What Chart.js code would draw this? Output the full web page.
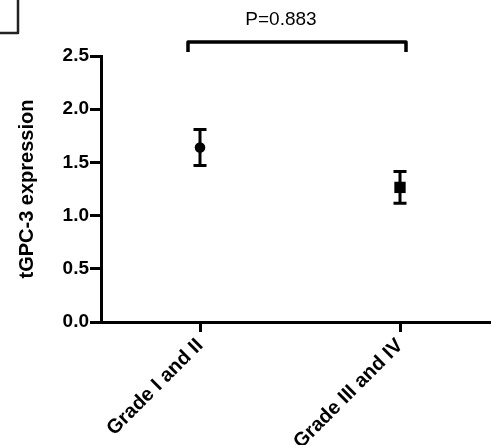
<!DOCTYPE html>
<html>
<head>
<meta charset="utf-8">
<script src="https://cdn.jsdelivr.net/npm/chart.js@4"></script>
<style>
  html, body { margin: 0; padding: 0; background: #fff; }
  #wrap { width: 491px; height: 445px; }
</style>
</head>
<body>
<div id="wrap"><canvas id="chart" width="491" height="445"></canvas></div>
<script>
var categories = ["Grade I and II", "Grade III and IV"];
var positions = [1, 2];
var means = [1.64, 1.265];
var sems = [0.17, 0.15];
var pointStyles = ["circle", "rect"];
var yTicks = [0, 0.5, 1.0, 1.5, 2.0, 2.5];
var pLabel = "P=0.883";

var FONT = "'Liberation Sans', Arial, sans-serif";

// 오차 막대 그리기
var errorBars = {
    id: 'errorBars',
    beforeDatasetsDraw: function (chart) {
        var ctx = chart.ctx;
        var xs = chart.scales.x, ys = chart.scales.y;
        ctx.save();
        ctx.strokeStyle = '#000';
        ctx.lineWidth = 3;
        for (var i = 0; i < means.length; i++) {
            var x = xs.getPixelForValue(positions[i]);
            var top = ys.getPixelForValue(means[i] + sems[i]);
            var bot = ys.getPixelForValue(means[i] - sems[i]);
            ctx.beginPath();
            ctx.moveTo(x, top); ctx.lineTo(x, bot);
            ctx.moveTo(x - 6.5, top); ctx.lineTo(x + 6.5, top);
            ctx.moveTo(x - 6.5, bot); ctx.lineTo(x + 6.5, bot);
            ctx.stroke();
        }
        ctx.restore();
    }
};

// P 값 괄호와 왼쪽 위 상자
var bracket = {
    id: 'bracket',
    afterDraw: function (chart) {
        var ctx = chart.ctx;
        var xs = chart.scales.x;
        var x1 = xs.getPixelForValue(positions[0]) - 12;
        var x2 = xs.getPixelForValue(positions[1]) + 6;
        var y = chart.chartArea.top - 14;
        ctx.save();
        ctx.strokeStyle = '#000';
        ctx.lineWidth = 3.5;
        ctx.lineJoin = 'round';
        ctx.beginPath();
        ctx.moveTo(x1, y + 10);
        ctx.lineTo(x1, y);
        ctx.lineTo(x2, y);
        ctx.lineTo(x2, y + 10);
        ctx.stroke();
        ctx.fillStyle = '#000';
        ctx.font = '19px ' + FONT;
        ctx.textAlign = 'center';
        ctx.textBaseline = 'middle';
        ctx.fillText(pLabel, (x1 + x2) / 2 - 16, 20);
        // 잘린 패널 상자
        ctx.strokeStyle = '#222';
        ctx.lineWidth = 2.5;
        ctx.strokeRect(-5, -5, 23, 38);
        ctx.restore();
    }
};

new Chart(document.getElementById('chart').getContext('2d'), {
    type: 'scatter',
    data: {
        datasets: [{
            data: positions.map(function (p, i) { return { x: p, y: means[i] }; }),
            pointStyle: pointStyles,
            pointRadius: [5.3, 8],
            pointHoverRadius: [5.3, 8],
            backgroundColor: '#000',
            borderColor: '#000',
            borderWidth: 0
        }]
    },
    options: {
        responsive: false,
        animation: false,
        devicePixelRatio: 1,
        layout: { autoPadding: false, padding: { top: 56, right: 0, left: 0, bottom: 0 } },
        plugins: {
            legend: { display: false },
            tooltip: { enabled: false }
        },
        scales: {
            x: {
                type: 'linear',
                min: 0.505,
                max: 2.455,
                afterBuildTicks: function (scale) {
                    scale.ticks = positions.map(function (p) { return { value: p }; });
                },
                afterFit: function (scale) {
                    scale.height = 123;
                    scale.paddingLeft = 0;
                    scale.paddingRight = 0;
                },
                border: { display: true, color: '#000', width: 3 },
                grid: { drawOnChartArea: false, drawTicks: true, tickLength: 10, color: '#000', lineWidth: 3 },
                ticks: {
                    color: '#000',
                    font: { family: FONT, size: 20, weight: 'bold' },
                    minRotation: 45,
                    maxRotation: 45,
                    padding: 2,
                    callback: function (v) {
                        var i = positions.indexOf(v);
                        return i >= 0 ? categories[i] : '';
                    }
                }
            },
            y: {
                min: 0,
                max: 2.5,
                afterBuildTicks: function (scale) {
                    scale.ticks = yTicks.map(function (v) { return { value: v }; });
                },
                afterFit: function (scale) {
                    scale.width = 101;
                    scale.paddingTop = 0;
                    scale.paddingBottom = 0;
                },
                border: { display: true, color: '#000', width: 3 },
                grid: { drawOnChartArea: false, drawTicks: true, tickLength: 11, color: '#000', lineWidth: 3 },
                ticks: {
                    color: '#000',
                    font: { family: FONT, size: 19, weight: 'bold' },
                    padding: 1,
                    callback: function (v) { return Number(v).toFixed(1); }
                },
                title: {
                    display: true,
                    text: 'tGPC-3 expression',
                    color: '#000',
                    font: { family: FONT, size: 20, weight: 'bold' },
                    padding: { top: 15, bottom: 0 }
                }
            }
        }
    },
    plugins: [errorBars, bracket]
});
</script>
</body>
</html>
